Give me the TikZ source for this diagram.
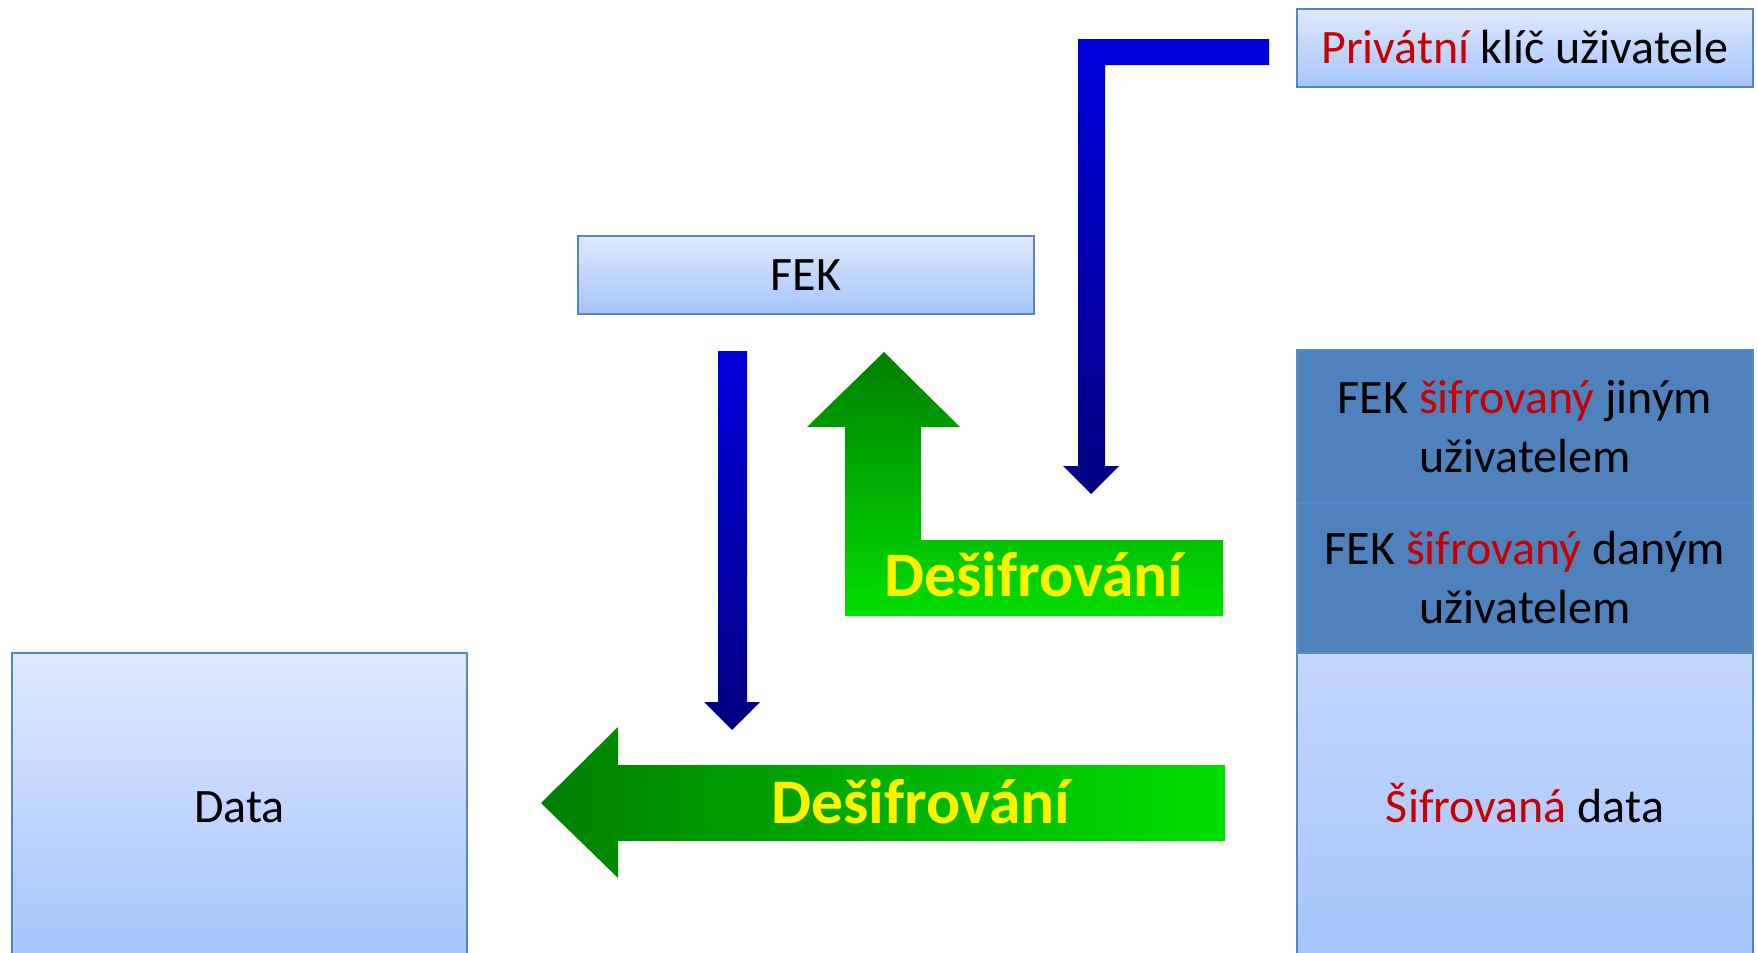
\documentclass[tikz,border=0pt]{standalone}
\usepackage{fontspec}
\setmainfont{Carlito}
\definecolor{boxtop}{RGB}{223,233,253}
\definecolor{boxbot}{RGB}{165,196,252}
\definecolor{boxmid}{RGB}{196,215,252}
\definecolor{boxline}{RGB}{84,134,198}
\definecolor{darkfill}{RGB}{79,129,189}
\definecolor{darkline}{RGB}{88,137,198}
\definecolor{txtred}{RGB}{200,0,0}
\definecolor{gdark}{RGB}{0,128,0}
\definecolor{glight}{RGB}{0,222,0}
\definecolor{bbright}{RGB}{0,0,222}
\definecolor{bdark}{RGB}{0,0,128}
\begin{document}
\begin{tikzpicture}[x=1pt,y=-1pt,
  boxtext/.style={font=\fontsize{48}{59}\selectfont, align=center, text=black},
  oneline/.style={text height=31pt, text depth=0pt},
  lightbox/.style={draw=boxline, line width=2pt, top color=boxtop, bottom color=boxbot,
     minimum width=456pt, inner sep=0pt, boxtext},
  darkbox/.style={draw=darkline, line width=1.5pt, fill=darkfill,
     minimum width=456pt, inner sep=0pt, boxtext},
  bluearrow/.style={top color=bbright, bottom color=bdark, draw=none},
  greenup/.style={top color=gdark, bottom color=glight, draw=none},
  greenleft/.style={left color=gdark, right color=glight, draw=none},
  arrowlabel/.style={font=\fontsize{63.5}{70}\selectfont\bfseries, text=yellow,
     text height=41pt, text depth=0pt, inner sep=0pt}]
\useasboundingbox (0,0) rectangle (1757,953);
\clip (0,0) rectangle (1757,953);

% boxes
\node[lightbox, oneline, minimum height=78pt] (key) at (1525,48)
  {\textcolor{txtred}{Privátní} klíč uživatele};
\node[lightbox, oneline, minimum height=78pt] (fek) at (806,275) {FEK};
\node[lightbox, oneline, minimum height=307pt, top color=boxmid] (enc) at (1525,806.5)
  {\textcolor{txtred}{Šifrovaná} data};
\node[darkbox, minimum height=153pt] (other) at (1525,426.5)
  {FEK \textcolor{txtred}{šifrovaný} jiným\\uživatelem};
\node[darkbox, minimum height=150pt] (mine) at (1525,578)
  {FEK \textcolor{txtred}{šifrovaný} daným\\uživatelem};
\node[lightbox, oneline, minimum width=455pt, minimum height=307pt] (data) at (239.5,806.5) {Data};

% blue L-shaped arrow from private key down
\path[bluearrow] (1269,39) -- (1078,39) -- (1078,466) -- (1063,466) -- (1091,494)
  -- (1119,466) -- (1105,466) -- (1105,65) -- (1269,65) -- cycle;

% blue arrow from FEK down
\path[bluearrow] (718,351) -- (747,351) -- (747,702) -- (760,702) -- (732,730)
  -- (704,702) -- (718,702) -- cycle;

% green L-shaped arrow up to FEK
\path[greenup] (884,352) -- (960,427) -- (921,427) -- (921,540) -- (1223,540)
  -- (1223,616) -- (845,616) -- (845,427) -- (807,427) -- cycle;
\node[arrowlabel] (dec1) at (1034,576) {Dešifrování};

% green arrow left to Data
\path[greenleft] (541,803) -- (618,727) -- (618,765) -- (1225,765) -- (1225,841)
  -- (618,841) -- (618,878) -- cycle;
\node[arrowlabel] (dec2) at (921,803) {Dešifrování};
\end{tikzpicture}
\end{document}
